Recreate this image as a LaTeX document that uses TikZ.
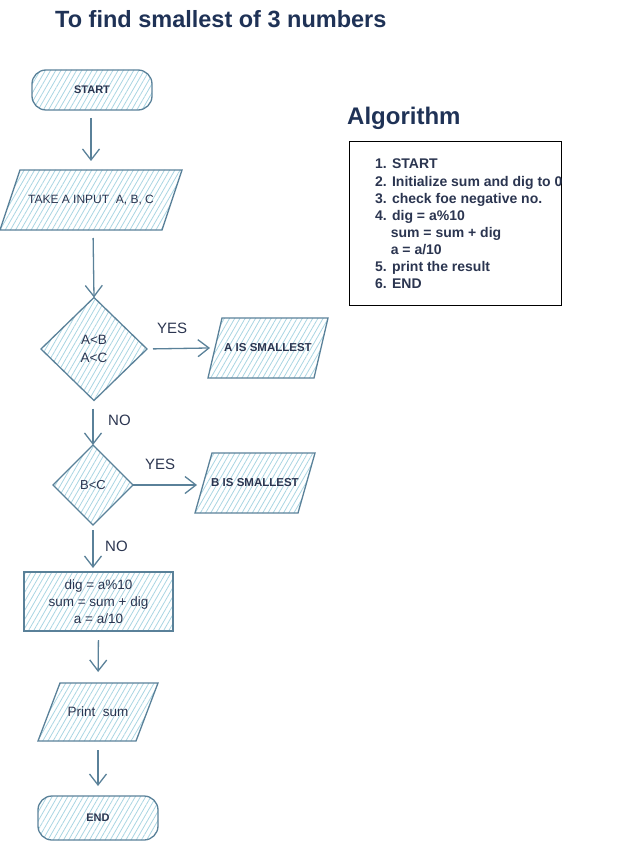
\documentclass[tikz,border=0pt]{standalone}
\usepackage{fontspec}
\setmainfont{Liberation Sans}
\usetikzlibrary{arrows.meta,patterns.meta,shapes.geometric}
\definecolor{stk}{HTML}{5A8199}
\definecolor{hat}{HTML}{A9D5E2}
\definecolor{txt}{HTML}{2B3550}
\definecolor{ttl}{HTML}{1F3256}
\pgfdeclarelayer{bg}
\pgfsetlayers{bg,main}
\newcommand\drawpara[2]{\begin{pgfonlayer}{bg}\draw[shp] ([xshift=#2]#1.north west) -- (#1.north east) -- ([xshift=-#2]#1.south east) -- (#1.south west) -- cycle;\end{pgfonlayer}}
\begin{document}
\begin{tikzpicture}[x=1pt,y=-1pt,
 hatch/.style={pattern={Lines[angle=60,distance=4.5pt,line width=0.8pt]},pattern color=hat},
 shp/.style={draw=stk,line width=1.3pt,hatch},
 box/.style 2 args={rectangle,minimum width=#1,minimum height=#2,inner sep=0,outer sep=0,text=txt,align=center},
 term/.style={shp,rounded corners=14pt},
 dia/.style 2 args={diamond,shp,minimum width=#1,minimum height=#2,inner sep=0,outer sep=0,text=txt,align=center},
 arr/.style={draw=stk,line width=1.3pt,-{Straight Barb[length=11pt,width=17pt,line width=1.3pt]}},
 lbl/.style={text=txt,font=\fontsize{15}{18}\selectfont,inner sep=0,anchor=west},
 fb/.style={font=\fontsize{#1}{#1}\selectfont\bfseries},
 fn/.style={font=\fontsize{#1}{17}\selectfont}
]
\useasboundingbox (0,0) rectangle (638,842);

\node[text=ttl,anchor=west,inner sep=0,font=\fontsize{23.5}{28}\selectfont\bfseries] (title) at (55,19) {To find smallest of 3 numbers};

% flowchart
\node[box={120pt}{40pt},term,fb=11] (start) at (92,90) {START};
\node[box={182pt}{60pt},fn=12] (input) at (91,200) {TAKE A INPUT~~A, B, C};
\drawpara{input}{20pt}
\node[dia={106pt}{103pt},font=\fontsize{13.5}{18}\selectfont] (d1) at (94,349) {A<B\\A<C};
\node[box={120pt}{60pt},fb=11.5] (asm) at (268,348) {A IS SMALLEST};
\drawpara{asm}{14pt}
\node[dia={80pt}{80pt},fn=13] (d2) at (93,485) {B<C};
\node[box={120pt}{60pt},fb=11.5] (bsm) at (255,483) {B IS SMALLEST};
\drawpara{bsm}{17pt}
\node[box={149pt}{59pt},shp,fn=13.5] (proc) at (98.5,601.5) {dig = a\%10\\sum = sum + dig\\a = a/10};
\node[box={120pt}{58pt},fn=13.5] (prt) at (98,712) {Print~~sum};
\drawpara{prt}{22pt}
\node[box={120pt}{44pt},term,fb=11] (end) at (98,818) {END};

% connectors
\draw[arr,shorten <=8pt,shorten >=9pt] (start.south -| 91,0) -- (input.north -| 91,0);
\draw[arr,shorten <=8pt] (input.south -| 93,0) -- (d1.north);
\draw[arr,shorten <=6pt,shorten >=-2pt] (d1.east) -- (asm.west);
\node[lbl] (yes1) at (157,328) {YES};
\draw[arr,shorten <=8pt] (d1.south -| d2.north) -- (d2.north);
\node[lbl] (no1) at (108,420) {NO};
\draw[arr,shorten >=-2pt] (d2.east) -- (bsm.west |- d2.east);
\node[lbl] (yes2) at (145,464) {YES};
\draw[arr,shorten <=5pt,shorten >=4pt] (d2.south) -- (d2.south |- proc.north);
\node[lbl] (no2) at (105,546) {NO};
\draw[arr,shorten <=9pt,shorten >=11pt] (proc.south) -- (prt.north);
\draw[arr,shorten <=9pt,shorten >=10pt] (prt.south) -- (end.north);

% algorithm
\node[text=ttl,anchor=west,inner sep=0,font=\fontsize{24}{28}\selectfont\bfseries] (algt) at (347,118) {Algorithm};
\node[draw=black,line width=1pt,rectangle,minimum width=212pt,minimum height=164pt,inner sep=0,anchor=north west] (algbox) at (349,141) {};
\node[anchor=north west,inner sep=0,text=txt,align=left,font=\fontsize{14}{17.1}\selectfont\bfseries] (algtext) at (375,159) {1. START\\
2. Initialize sum and dig to 0\\
3. check foe negative no.\\
4. dig = a\%10\\
\phantom{4.\ }sum = sum + dig\\
\phantom{4.\ }a = a/10\\
5. print the result\\
6. END};
\end{tikzpicture}
\end{document}
